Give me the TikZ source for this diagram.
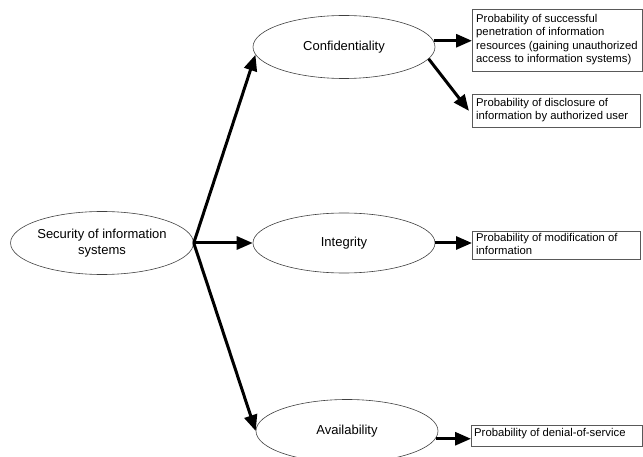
\documentclass[tikz,border=0pt]{standalone}
\usepackage{fontspec}
\setmainfont{Liberation Sans}
\usetikzlibrary{shapes.geometric,arrows.meta}
\begin{document}
\begin{tikzpicture}[x=1pt,y=-1pt,
  oval/.style={ellipse,draw=black!75,line width=0.6pt,inner sep=0pt,minimum width=182pt,minimum height=63pt,font=\fontsize{13pt}{16pt}\selectfont,align=center},
  probbox/.style={draw=black!65,line width=0.8pt,rectangle,anchor=north west,inner sep=0pt},
  probtext/.style={anchor=north west,inner sep=0pt,align=left,font=\fontsize{11.3pt}{13.4pt}\selectfont},
  bigarrow/.style={line width=3pt,-{Triangle[length=16pt,width=13pt]}}]
\useasboundingbox (0,0) rectangle (643,457);
\node[oval] (sec) at (102,243) {Security of information\\systems};
\node[oval] (conf) at (344,47) {Confidentiality};
\node[oval,minimum height=60pt] (integ) at (344,243) {Integrity};
\node[oval] (avail) at (347,431) {Availability};
\coordinate (hub) at (sec.east);
% boxes
\node[probbox,minimum width=170pt,minimum height=62pt] (b1) at (472,9) {};
\node[probtext] at (476,14) {Probability of successful\\penetration of information\\resources (gaining unauthorized\\access to information systems)};
\node[probbox,minimum width=168pt,minimum height=33pt] (b2) at (472,94) {};
\node[probtext] at (476,98) {Probability of disclosure of\\information by authorized user};
\node[probbox,minimum width=168pt,minimum height=28pt] (b3) at (472,231) {};
\node[probtext] at (476,233) {Probability of modification of\\information};
\node[probbox,minimum width=171pt,minimum height=21pt] (b4) at (471,425) {};
\node[probtext] at (474,428) {Probability of denial-of-service};
% arrows
\draw[bigarrow] (hub) -- (conf.185);
\draw[bigarrow] (hub) -- (integ.west);
\draw[bigarrow] (hub) -- (avail.west);
\draw[bigarrow] (conf.4) -- (conf.4 -| b1.west);
\draw[bigarrow] (conf.-8) -- ([xshift=-3pt]b2.west);
\draw[bigarrow] (integ.east) -- (integ.east -| b3.west);
\draw[bigarrow] (avail.-5) -- (avail.-5 -| b4.west);
\end{tikzpicture}
\end{document}
